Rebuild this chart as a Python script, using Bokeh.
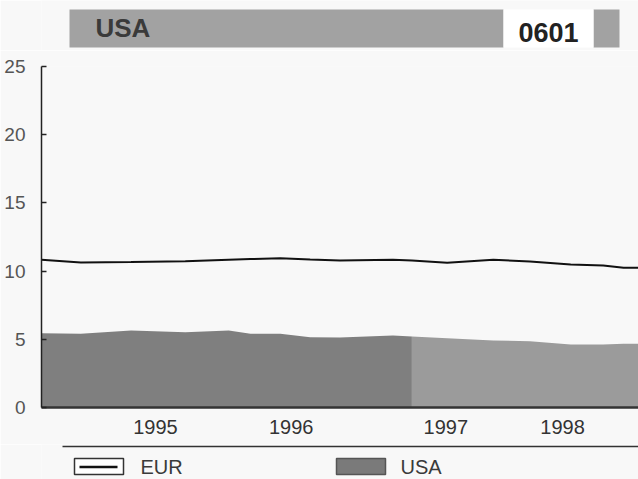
from bokeh.plotting import figure
from bokeh.models import Range1d, FixedTicker
from bokeh.layouts import column
from bokeh.core.properties import value
from bokeh.embed import file_html
from bokeh.resources import INLINE

# ---- data ----
years = [1994.16, 1994.45, 1994.82, 1995.22, 1995.54, 1995.70, 1995.92, 1996.14, 1996.36,
         1996.75, 1996.89, 1997.15, 1997.49, 1997.76, 1998.06, 1998.30, 1998.45, 1998.56]
eur = [10.83, 10.63, 10.66, 10.72, 10.83, 10.88, 10.95, 10.85, 10.78,
       10.83, 10.78, 10.61, 10.83, 10.70, 10.48, 10.41, 10.24, 10.24]
usa = [5.45, 5.40, 5.65, 5.52, 5.65, 5.40, 5.40, 5.15, 5.13,
       5.28, 5.20, 5.08, 4.92, 4.86, 4.62, 4.62, 4.67, 4.67]
split = 10  # index where the area shading changes tone

year_labels = ["1995", "1996", "1997", "1998"]
year_label_pos = [1995.0, 1996.0, 1997.14, 1998.0]
y_ticks = [0, 5, 10, 15, 20, 25]

title_left = "USA"
title_right = "0601"
series_names = ["EUR", "USA"]

FONT = value("Liberation Sans")
BG = "#f8f8f8"
W = 638
LEFT = 41

# ---- title strip ----
t = figure(width=W, height=50, x_range=Range1d(LEFT, W), y_range=Range1d(50, 0),
           output_backend="svg", toolbar_location=None, x_axis_type=None, y_axis_type=None,
           min_border_left=LEFT, min_border_right=0, min_border_top=0, min_border_bottom=0,
           background_fill_color=BG, border_fill_color=BG)
t.outline_line_color = None
t.grid.visible = False
t.quad(left=[69], right=[503], top=[9], bottom=[47], fill_color="#a2a2a2", line_color=None)
t.quad(left=[593], right=[619], top=[9], bottom=[47], fill_color="#a2a2a2", line_color=None)
t.quad(left=[503], right=[593], top=[9], bottom=[47], fill_color="#ffffff", line_color=None)
t.text(x=[95], y=[27], text=[title_left], text_font=FONT, text_font_style="bold",
       text_font_size="26px", text_color="#3a3a3a", text_baseline="middle", text_align="left")
t.text(x=[548], y=[32], text=[title_right], text_font=FONT, text_font_style="bold",
       text_font_size="27px", text_color="#222222", text_baseline="middle", text_align="center")

# ---- main chart ----
p = figure(width=W, height=394, x_range=Range1d(1994.16, 1998.56), y_range=Range1d(0, 25),
           output_backend="svg", toolbar_location=None,
           min_border_left=LEFT, min_border_right=0, min_border_top=16, min_border_bottom=37,
           background_fill_color=BG, border_fill_color=BG)
p.outline_line_color = None
p.grid.visible = False

p.varea(x=years[:split + 1], y1=[0] * (split + 1), y2=usa[:split + 1], fill_color="#7f7f7f")
p.varea(x=years[split:], y1=[0] * (len(years) - split), y2=usa[split:], fill_color="#9b9b9b")
p.line(x=years, y=eur, line_color="#111111", line_width=2)

p.yaxis.ticker = FixedTicker(ticks=y_ticks)
p.yaxis.major_tick_in = 5
p.yaxis.major_tick_out = 0
p.yaxis.minor_tick_line_color = None
p.yaxis.axis_line_width = 1.5
p.yaxis.axis_line_color = "#222222"
p.yaxis.major_tick_line_color = "#222222"
p.yaxis.major_tick_line_width = 1.5
p.yaxis.major_label_text_font = "Liberation Sans"
p.yaxis.major_label_text_font_size = "19px"
p.yaxis.major_label_text_color = "#555555"
p.yaxis.major_label_standoff = 16

p.xaxis.ticker = FixedTicker(ticks=year_label_pos)
p.xaxis.major_label_overrides = {pos: lab for pos, lab in zip(year_label_pos, year_labels)}
p.xaxis.major_tick_line_color = None
p.xaxis.minor_tick_line_color = None
p.xaxis.axis_line_width = 2.5
p.xaxis.axis_line_color = "#333333"
p.xaxis.major_label_text_font = "Liberation Sans"
p.xaxis.major_label_text_font_size = "20px"
p.xaxis.major_label_text_color = "#333333"
p.xaxis.major_label_standoff = 6

# ---- legend strip ----
lg = figure(width=W, height=35, x_range=Range1d(LEFT, W), y_range=Range1d(35, 0),
            output_backend="svg", toolbar_location=None, x_axis_type=None, y_axis_type=None,
            min_border_left=LEFT, min_border_right=0, min_border_top=0, min_border_bottom=0,
            background_fill_color=BG, border_fill_color=BG)
lg.outline_line_color = None
lg.grid.visible = False
lg.segment(x0=[62], y0=[2], x1=[W], y1=[2], line_color="#333333", line_width=1.5)
lg.quad(left=[74], right=[123], top=[14], bottom=[30], fill_color="#ffffff",
        line_color="#333333", line_width=1.5)
lg.segment(x0=[79], y0=[22.5], x1=[117], y1=[22.5], line_color="#111111", line_width=2.5)
lg.text(x=[140], y=[22], text=[series_names[0]], text_font=FONT, text_font_size="20px",
        text_color="#3a3a3a", text_baseline="middle", text_align="left")
lg.quad(left=[336], right=[385], top=[14], bottom=[30], fill_color="#7a7a7a",
        line_color="#555555", line_width=1.5)
lg.text(x=[400], y=[22], text=[series_names[1]], text_font=FONT, text_font_size="20px",
        text_color="#3a3a3a", text_baseline="middle", text_align="left")

layout = column(t, p, lg, spacing=0)
open("out.html", "w").write(file_html(layout, INLINE))
